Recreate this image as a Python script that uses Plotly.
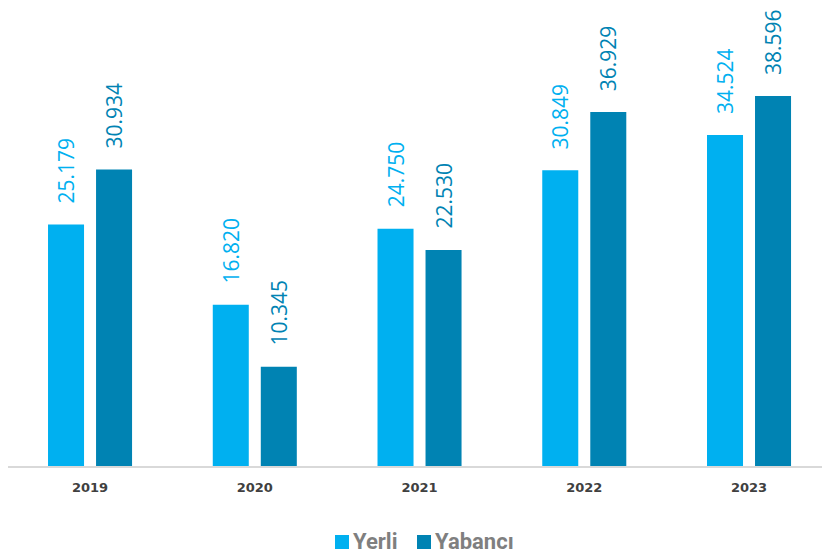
import plotly.graph_objects as go

years = ["2019", "2020", "2021", "2022", "2023"]
yerli = [25.179, 16.820, 24.750, 30.849, 34.524]
yabanci = [30.934, 10.345, 22.530, 36.929, 38.596]
yerli_labels = ["25.179", "16.820", "24.750", "30.849", "34.524"]
yabanci_labels = ["30.934", "10.345", "22.530", "36.929", "38.596"]
series_names = ["Yerli", "Yabancı"]

c_yerli = "#00B0F0"
c_yab = "#0083B3"

fig = go.Figure()
fig.add_trace(go.Bar(name=series_names[0], x=years, y=yerli, marker_color=c_yerli,
                     marker_line_width=0))
fig.add_trace(go.Bar(name=series_names[1], x=years, y=yabanci, marker_color=c_yab,
                     marker_line_width=0))

anns = []
for i, yr in enumerate(years):
    for vals, labs, col, xs in ((yerli, yerli_labels, c_yerli, -24), (yabanci, yabanci_labels, c_yab, 24)):
        anns.append(dict(x=i, y=vals[i], xref="x", yref="y", text=labs[i],
                         showarrow=False, textangle=-90, yanchor="bottom",
                         xanchor="center", xshift=xs, yshift=19,
                         font=dict(family="Open Sans", size=21, color=col)))

# legend drawn as paper-positioned swatches + labels
L, W, PH = 8, 814, 466
def px(x):
    return (x - L) / W
def py(y):
    return (PH - y) / PH

legend_items = [(series_names[0], c_yerli, 342, 352), (series_names[1], c_yab, 424, 434)]
for name, col, sq_x, tx_x in legend_items:
    anns.append(dict(x=px(sq_x), y=py(542), xref="paper", yref="paper", text=" ",
                     showarrow=False, width=14, height=14, bgcolor=col, borderpad=0,
                     borderwidth=0, xanchor="center", yanchor="middle",
                     font=dict(size=1)))
    anns.append(dict(x=px(tx_x), y=py(541), xref="paper", yref="paper", text=name,
                     showarrow=False, xanchor="left", yanchor="middle", borderpad=0,
                     font=dict(family="Roboto", size=22, color="#7F7F7F", weight="bold")))

fig.update_layout(
    width=822, height=554,
    margin=dict(l=8, r=0, t=0, b=88, autoexpand=False),
    paper_bgcolor="white", plot_bgcolor="white",
    barmode="group", bargap=0.417, bargroupgap=0.25,
    annotations=anns,
    showlegend=False,
    xaxis=dict(type="category", range=[-0.498, 4.443], showline=True, linecolor="#D9D9D9",
               linewidth=1.5, showgrid=False, ticks="", ticklabelstandoff=9,
               tickfont=dict(family="DejaVu Sans", size=13, color="#404040", weight="bold")),
    yaxis=dict(range=[0, 48.6], visible=False, showgrid=False),
)

fig.write_html("out.html", config={"displayModeBar": False},
               post_script="document.body.style.margin='0';document.body.style.overflow='hidden';")
